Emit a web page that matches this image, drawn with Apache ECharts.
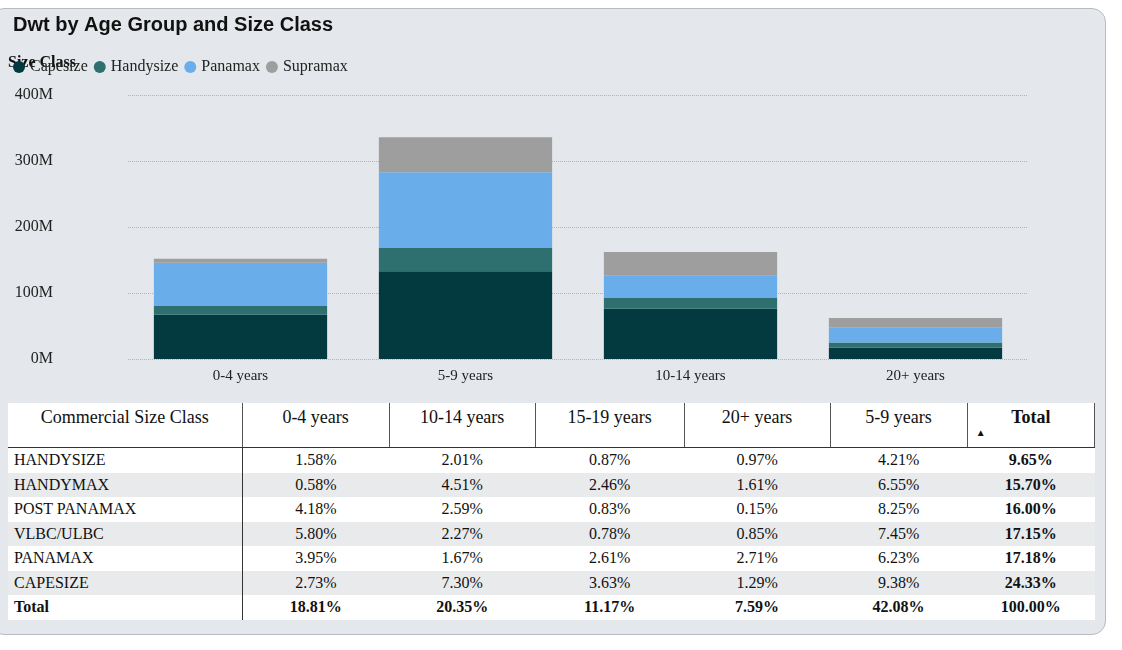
<!DOCTYPE html>
<html><head><meta charset="utf-8">
<script src="https://cdn.jsdelivr.net/npm/echarts@6/dist/echarts.min.js"></script>
<style>
body{margin:0;width:1122px;height:650px;background:#fff;font-family:"Liberation Serif",serif;}
#card{position:absolute;left:-10px;top:8px;width:1114px;height:625px;background:#e4e7eb;border:1.5px solid #b8bcc2;border-radius:14px;}
#chart{position:absolute;left:0;top:0;width:1122px;height:400px;}
table{position:absolute;left:8px;top:403px;width:1087px;border-collapse:collapse;font-size:16px;color:#111;}
td,th{font-weight:normal;text-align:center;padding:0;height:24.5px;}
th{height:40px;background:#fff;font-size:18px;border-right:1px solid #555;border-bottom:1px solid #333;vertical-align:top;padding-top:4px}
td:first-child{text-align:left;padding-left:6px;border-right:1px solid #333;}
tr.a td{background:#fff} tr.b td{background:#e9eaec}
tr.tot td{font-weight:bold;background:#fff}
td.b{font-weight:bold}
</style></head><body>
<div id="card"></div>
<div id="chart"></div>
<table id="tbl"></table>
<script>
const categories=['0-4 years','5-9 years','10-14 years','20+ years'];
const capesize=[67,133,76,17];
const handysize=[14,35,17,8];
const panamax=[65,115,33,23];
const supramax=[6,53,36,14];
const tableCols=['Commercial Size Class','0-4 years','10-14 years','15-19 years','20+ years','5-9 years','Total'];
const tableRows=[
['HANDYSIZE','1.58%','2.01%','0.87%','0.97%','4.21%','9.65%'],
['HANDYMAX','0.58%','4.51%','2.46%','1.61%','6.55%','15.70%'],
['POST PANAMAX','4.18%','2.59%','0.83%','0.15%','8.25%','16.00%'],
['VLBC/ULBC','5.80%','2.27%','0.78%','0.85%','7.45%','17.15%'],
['PANAMAX','3.95%','1.67%','2.61%','2.71%','6.23%','17.18%'],
['CAPESIZE','2.73%','7.30%','3.63%','1.29%','9.38%','24.33%']];
const totalRow=['Total','18.81%','20.35%','11.17%','7.59%','42.08%','100.00%'];
const colW=[235,147,146,149,146,137,127];

let h='<tr>'+tableCols.map((c,i)=>`<th style="width:${colW[i]}px;${i==6?'font-weight:bold;position:relative':''}">${c}${i==6?'<span style="position:absolute;left:8px;top:24px;font-size:10px">▲</span>':''}</th>`).join('')+'</tr>';
tableRows.forEach((r,k)=>{h+=`<tr class="${k%2?'b':'a'}">`+r.map((v,i)=>`<td${i==6?' class="b"':''}>${v}</td>`).join('')+'</tr>';});
h+='<tr class="tot">'+totalRow.map(v=>`<td>${v}</td>`).join('')+'</tr>';
document.getElementById('tbl').innerHTML=h;

const ch=echarts.init(document.getElementById('chart'));
const ser=(n,d,c)=>({name:n,type:'bar',stack:'s',data:d,itemStyle:{color:c},barWidth:'77%'});
ch.setOption({
 animation:false,
 title:{text:'Dwt by Age Group and Size Class',left:8,top:10,textStyle:{fontFamily:'Liberation Sans',fontWeight:'bold',fontSize:20,color:'#111'}},
 legend:{left:8,top:54,itemWidth:12,itemHeight:12,icon:'circle',itemGap:6,textStyle:{fontFamily:'Liberation Serif',fontSize:16,color:'#222'},
   formatter:n=>n,data:['Capesize','Handysize','Panamax','Supramax']},
 graphic:[{type:'text',left:8,top:55,style:{text:'Size Class',font:'bold 16px "Liberation Serif"',fill:'#111'}}],
 grid:{left:128,right:94,top:95,bottom:41},
 xAxis:{type:'category',data:categories,axisLine:{show:false},axisTick:{show:false},axisLabel:{fontFamily:'Liberation Serif',fontSize:15,color:'#222',margin:10}},
 yAxis:{type:'value',min:0,max:400,interval:100,axisLabel:{formatter:'{value}M',fontFamily:'Liberation Serif',fontSize:16,color:'#222',margin:75},splitLine:{lineStyle:{type:'dotted',color:'#b0b4ba'}}},
 series:[ser('Capesize',capesize,'#023a3f'),ser('Handysize',handysize,'#2e7070'),ser('Panamax',panamax,'#69aeea'),ser('Supramax',supramax,'#9e9e9e')]
});
</script></body></html>
